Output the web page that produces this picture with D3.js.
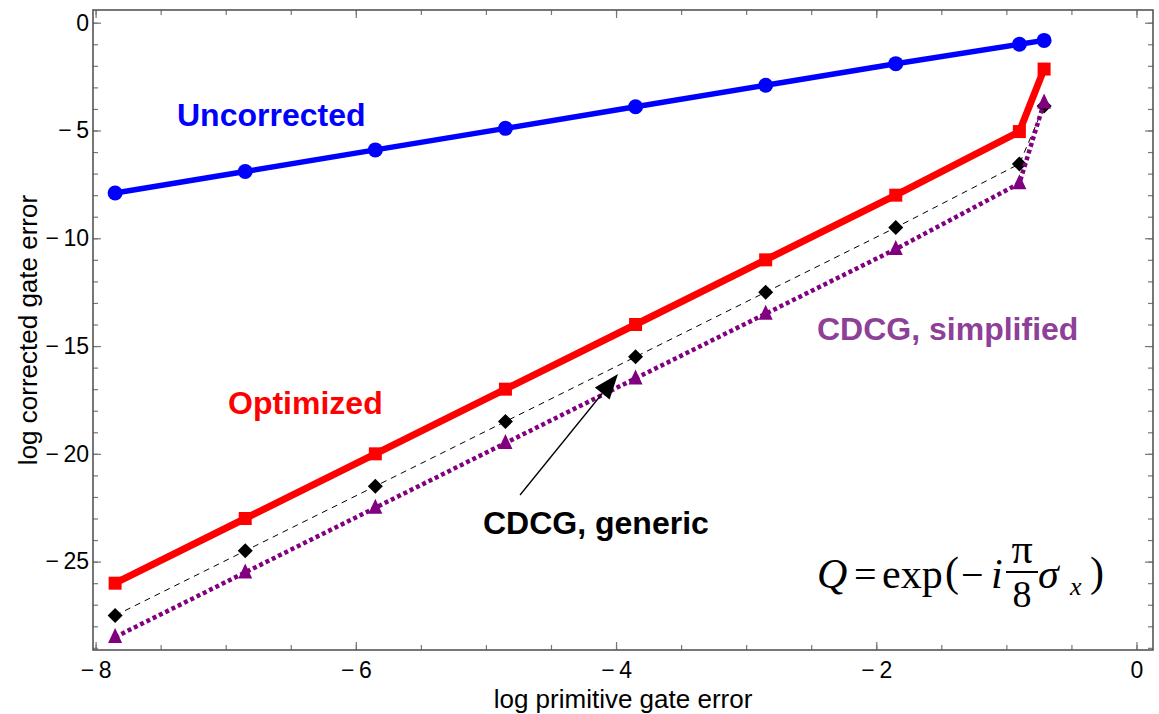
<!DOCTYPE html>
<html>
<head>
<meta charset="utf-8">
<script src="https://cdn.jsdelivr.net/npm/d3@7"></script>
<style>
  body { margin: 0; background: #fff; }
  svg { display: block; }
</style>
</head>
<body>
<div id="chart-area"></div>
<script>
// data
const xValues = [-7.85, -6.85, -5.85, -4.85, -3.85, -2.85, -1.85, -0.9, -0.71]
const uncorrected = [-7.9, -6.9, -5.9, -4.9, -3.9, -2.9, -1.9, -1.0, -0.82]
const optimized = [-26.0, -23.0, -20.0, -17.0, -14.0, -11.0, -8.0, -5.05, -2.15]
const cdcgGeneric = [-27.5, -24.5, -21.5, -18.5, -15.5, -12.5, -9.5, -6.55, -3.86]
const cdcgSimplified = [-28.5, -25.5, -22.5, -19.5, -16.5, -13.5, -10.5, -7.45, -3.7]

const xMajorTicks = [-8, -6, -4, -2, 0]
const yMajorTicks = [0, -5, -10, -15, -20, -25]

const W = 1159, H = 714
const LEFT = 93, RIGHT = 1153, TOP = 10, BOTTOM = 650

const svg = d3.select("#chart-area").append("svg")
  .attr("width", W)
  .attr("height", H)

const x = d3.scaleLinear().domain([-8.02, 0.127]).range([LEFT, RIGHT])
const y = d3.scaleLinear().domain([-29.1, 0.59]).range([BOTTOM, TOP])

const minus = d => d < 0 ? "\u2212\u2009" + Math.abs(d) : String(d)
const xMinor = d3.range(-8, 0.01, 0.5)
const yMinor = d3.range(-29, 0.01, 1)

// frame ticks (inward)
const tickCol = "#777"
function addAxis(axis, tr, labels) {
  const g = svg.append("g").attr("transform", tr).call(axis)
  g.select(".domain").remove()
  g.selectAll(".tick line").attr("stroke", tickCol).attr("stroke-width", 1.2)
  g.selectAll("text")
    .attr("font-family", "'Liberation Sans', Arial, Helvetica, sans-serif")
    .attr("font-size", "23px")
    .attr("fill", "#000")
  if (!labels) g.selectAll("text").remove()
  return g
}
addAxis(d3.axisBottom(x).tickValues(xMinor).tickSize(-5).tickFormat(""), `translate(0,${BOTTOM})`, false)
addAxis(d3.axisBottom(x).tickValues(xMajorTicks).tickSize(-8).tickPadding(12).tickFormat(minus), `translate(0,${BOTTOM})`, true)
addAxis(d3.axisTop(x).tickValues(xMinor).tickSize(-5).tickFormat(""), `translate(0,${TOP})`, false)
addAxis(d3.axisTop(x).tickValues(xMajorTicks).tickSize(-8).tickFormat(""), `translate(0,${TOP})`, false)
addAxis(d3.axisLeft(y).tickValues(yMinor).tickSize(-5).tickFormat(""), `translate(${LEFT},0)`, false)
addAxis(d3.axisLeft(y).tickValues(yMajorTicks).tickSize(-8).tickPadding(4).tickFormat(minus), `translate(${LEFT},0)`, true)
addAxis(d3.axisRight(y).tickValues(yMinor).tickSize(-5).tickFormat(""), `translate(${RIGHT},0)`, false)
addAxis(d3.axisRight(y).tickValues(yMajorTicks).tickSize(-8).tickFormat(""), `translate(${RIGHT},0)`, false)

// frame
svg.append("rect")
  .attr("x", LEFT).attr("y", TOP)
  .attr("width", RIGHT - LEFT).attr("height", BOTTOM - TOP)
  .attr("fill", "none")
  .attr("stroke", "#555")
  .attr("stroke-width", 1.6)

// axis titles
svg.append("text")
  .attr("x", (LEFT + RIGHT) / 2)
  .attr("y", 708)
  .attr("text-anchor", "middle")
  .attr("font-family", "'Liberation Sans', Arial, Helvetica, sans-serif")
  .attr("font-size", "26px")
  .text("log primitive gate error")
svg.append("text")
  .attr("transform", `translate(37,${(TOP + BOTTOM) / 2}) rotate(-90)`)
  .attr("text-anchor", "middle")
  .attr("font-family", "'Liberation Sans', Arial, Helvetica, sans-serif")
  .attr("font-size", "26px")
  .text("log corrected gate error")

const plot = svg.append("g")

const series = [
  { name: "uncorrected", values: uncorrected, color: "#0000ff", width: 5.5, dash: null, marker: "circle" },
  { name: "optimized", values: optimized, color: "#ff0000", width: 7, dash: null, marker: "square" },
  { name: "generic", values: cdcgGeneric, color: "#000000", width: 1, dash: "6,5", marker: "diamond" },
  { name: "simplified", values: cdcgSimplified, color: "#800080", width: 4.5, dash: "4,3", marker: "triangle" }
]

const markerPath = {
  square: "M-6.5,-6.5H6.5V6.5H-6.5Z",
  diamond: "M0,-7.5L7.5,0L0,7.5L-7.5,0Z",
  triangle: "M0,-9L7,6L-7,6Z"
}

const line = d3.line().x(d => x(d[0])).y(d => y(d[1]))

series.forEach(s => {
  const pts = xValues.map((xv, i) => [xv, s.values[i]])
  plot.append("path")
    .datum(pts)
    .attr("d", line)
    .attr("fill", "none")
    .attr("stroke", s.color)
    .attr("stroke-width", s.width)
    .attr("stroke-dasharray", s.dash)
    .attr("stroke-linejoin", "round")
  if (s.marker === "circle") {
    plot.selectAll(null).data(pts).enter().append("circle")
      .attr("cx", d => x(d[0]))
      .attr("cy", d => y(d[1]))
      .attr("r", 7.5)
      .attr("fill", s.color)
  } else {
    plot.selectAll(null).data(pts).enter().append("path")
      .attr("transform", d => `translate(${x(d[0])},${y(d[1])})`)
      .attr("d", markerPath[s.marker])
      .attr("fill", s.color)
  }
})

// labels
const labelFont = "'Liberation Sans', Arial, Helvetica, sans-serif"
const labels = [
  { text: "Uncorrected", x: 177, y: 126, color: "#0000ff" },
  { text: "Optimized", x: 228, y: 414, color: "#ff0000" },
  { text: "CDCG, simplified", x: 817, y: 340, color: "#8e3f97" },
  { text: "CDCG, generic", x: 483, y: 534, color: "#000000" }
]
labels.forEach(l => {
  svg.append("text")
    .attr("x", l.x).attr("y", l.y)
    .attr("font-family", labelFont)
    .attr("font-weight", "bold")
    .attr("font-size", "32px")
    .attr("fill", l.color)
    .text(l.text)
})

// arrow pointing at the generic curve
const tail = [x(-4.738), y(-21.91)]
const tip = [x(-3.985), y(-16.30)]
const ang = Math.atan2(tip[1] - tail[1], tip[0] - tail[0])
const headLen = 25, headHalf = 9.5
const bx = tip[0] - headLen * Math.cos(ang), by = tip[1] - headLen * Math.sin(ang)
svg.append("line")
  .attr("x1", tail[0]).attr("y1", tail[1])
  .attr("x2", bx).attr("y2", by)
  .attr("stroke", "#000").attr("stroke-width", 1.3)
svg.append("path")
  .attr("d", `M${tip[0]},${tip[1]}L${bx + headHalf * Math.sin(ang)},${by - headHalf * Math.cos(ang)}L${bx - headHalf * Math.sin(ang)},${by + headHalf * Math.cos(ang)}Z`)
  .attr("fill", "#000")

// formula Q = exp(-i pi/8 sigma_x)
const serif = "'Liberation Serif', 'Times New Roman', Times, serif"
const formula = [
  { t: "Q", x: 817, y: 588, size: 42, italic: true },
  { t: "=", x: 854, y: 588, size: 40 },
  { t: "exp", x: 882, y: 588, size: 42 },
  { t: "(", x: 945, y: 586, size: 42 },
  { t: "\u2212", x: 961, y: 588, size: 40 },
  { t: "i", x: 991, y: 588, size: 42, italic: true },
  { t: "\u03c0", x: 1022, y: 563, size: 42, italic: false, anchor: "middle" },
  { t: "8", x: 1022, y: 607, size: 38, anchor: "middle" },
  { t: "\u03c3", x: 1038, y: 588, size: 42, italic: true },
  { t: "x", x: 1070, y: 595, size: 26, italic: true },
  { t: ")", x: 1090, y: 586, size: 42 }
]
formula.forEach(f => {
  svg.append("text")
    .attr("x", f.x).attr("y", f.y)
    .attr("text-anchor", f.anchor || "start")
    .attr("font-family", serif)
    .attr("font-size", f.size + "px")
    .attr("font-style", f.italic ? "italic" : "normal")
    .text(f.t)
})
svg.append("line")
  .attr("x1", 1006).attr("x2", 1038)
  .attr("y1", 572).attr("y2", 572)
  .attr("stroke", "#000").attr("stroke-width", 2)
</script>
</body>
</html>
